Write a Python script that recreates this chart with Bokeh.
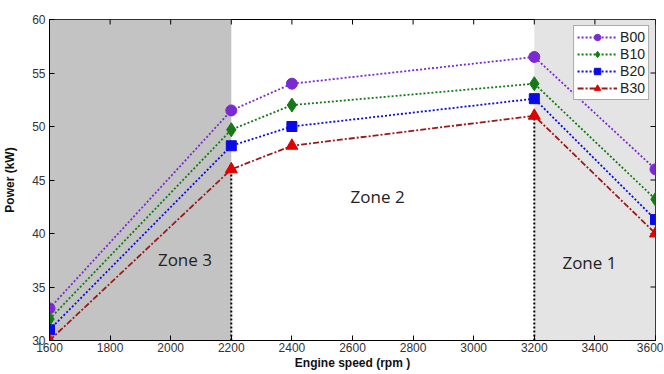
import math
from bokeh.plotting import figure
from bokeh.models import BoxAnnotation, Legend, LegendItem, Range1d, FixedTicker, Label
from bokeh.embed import file_html
from bokeh.resources import INLINE

speed = [1600, 2200, 2400, 3200, 3600]
b00 = [33.0, 51.5, 54.0, 56.5, 46.0]
b10 = [32.0, 49.7, 52.0, 54.0, 43.2]
b20 = [31.0, 48.2, 50.0, 52.6, 41.3]
b30 = [30.0, 46.0, 48.2, 51.0, 40.0]
series_names = ["B00", "B10", "B20", "B30"]
x_ticks = [1600, 1800, 2000, 2200, 2400, 2600, 2800, 3000, 3200, 3400, 3600]
y_ticks = [30, 35, 40, 45, 50, 55, 60]
zone_names = ["Zone 3", "Zone 2", "Zone 1"]
zone_bounds = [(1600, 2200), (2200, 3200), (3200, 3600)]
zone_label_pos = [(2047, 37.6), (2683, 43.5), (3382, 37.3)]
divider_x = [2200, 3200]
divider_top = [46.0, 51.0]

X0, X1, Y0, Y1 = 1600, 3600, 30, 60
FONT = "Liberation Sans"

p = figure(frame_width=606, frame_height=321, output_backend="svg", toolbar_location=None,
           x_range=Range1d(X0, X1), y_range=Range1d(Y0, Y1),
           min_border_left=48, min_border_right=8, min_border_top=19, min_border_bottom=32)
p.xgrid.visible = False
p.ygrid.visible = False
p.outline_line_color = "black"
p.outline_line_width = 1
p.background_fill_color = "white"
p.border_fill_color = "white"

zone_fills = ["#c3c3c3", None, "#e4e4e4"]
for (l, r), c in zip(zone_bounds, zone_fills):
    if c:
        p.add_layout(BoxAnnotation(left=l, right=r, fill_color=c, fill_alpha=1.0, line_alpha=0, level="underlay"))

for xv, top in zip(divider_x, divider_top):
    p.line([xv, xv], [Y0, top], line_color="black", line_dash="2 2", line_width=2)

for name, (xx, yy) in zip(zone_names, zone_label_pos):
    p.add_layout(Label(x=xx, y=yy, text=name, text_font="Open Sans", text_font_size="17px",
                       text_color="#222222", text_align="center", text_baseline="middle"))

# tick marks on the top and right edges of the box
p.scatter(x_ticks, [Y1] * len(x_ticks), marker="dash", angle=math.pi / 2, size=10,
          line_color="black", line_width=1)
p.scatter([X1] * len(y_ticks), y_ticks, marker="dash", size=10, line_color="black", line_width=1)

colors = ["#7a2ad0", "#157a15", "#0a0ae6", "#e00000"]
line_colors = ["#7a2ad0", "#157a15", "#0a0ae6", "#9a1a1a"]
dashes = ["2 2", "2 2", "2 2", "6 2 2 2"]
markers = ["circle", "diamond", "square", "triangle"]
sizes = [11, 14, 10, 12]
items = []
for name, ys, c, lc, d, m, s in zip(series_names, [b00, b10, b20, b30], colors, line_colors, dashes, markers, sizes):
    lr = p.line(speed, ys, line_color=lc, line_dash=d, line_width=1.8)
    sr = p.scatter(speed, ys, marker=m, size=s, fill_color=c, line_color=c)
    items.append(LegendItem(label=name, renderers=[lr, sr]))

legend = Legend(items=items, location="top_right", label_text_font=FONT, label_text_font_size="14px",
                label_text_color="#222222", border_line_color="#555555", border_line_width=1,
                background_fill_alpha=1, glyph_width=40, glyph_height=16, label_height=16,
                spacing=1, padding=3, margin=6, label_standoff=3)
p.add_layout(legend)

for ax in (p.xaxis[0], p.yaxis[0]):
    ax.major_tick_in = 5
    ax.major_tick_out = 0
    ax.minor_tick_line_color = None
    ax.major_label_text_font = FONT
    ax.major_label_text_font_size = "12px"
    ax.major_label_text_color = "#333333"
    ax.axis_line_color = "black"
    ax.axis_label_text_font = FONT
    ax.axis_label_text_font_style = "bold"
    ax.axis_label_text_font_size = "12px"
    ax.axis_label_text_color = "#111111"

p.xaxis[0].ticker = FixedTicker(ticks=x_ticks)
p.yaxis[0].ticker = FixedTicker(ticks=y_ticks)
p.xaxis[0].axis_label = "Engine speed (rpm )"
p.yaxis[0].axis_label = "Power (kW)"
p.xaxis[0].major_label_standoff = 2
p.xaxis[0].axis_label_standoff = 1
p.yaxis[0].major_label_standoff = 4
p.yaxis[0].axis_label_standoff = 12

open("out.html", "w").write(file_html(p, INLINE))
